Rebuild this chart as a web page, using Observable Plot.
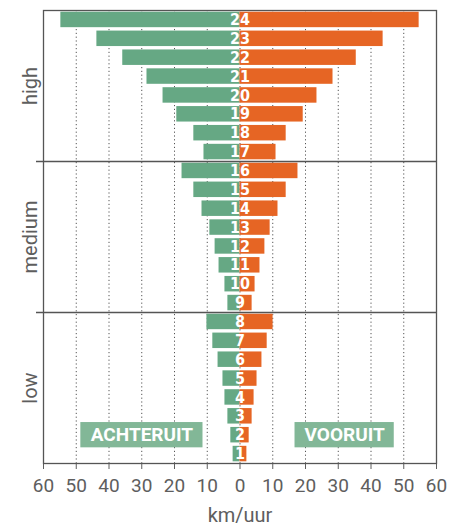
<!DOCTYPE html>
<html><head><meta charset="utf-8">
<script src="https://cdn.jsdelivr.net/npm/d3@7"></script>
<script src="https://cdn.jsdelivr.net/npm/@observablehq/plot@0.6"></script>
<style>
body{margin:0;background:#fff;}
#chart svg{display:block;}
</style>
</head><body><div id="chart"></div>
<script>
// gear numbers (categories)
const gears = [1,2,3,4,5,6,7,8,9,10,11,12,13,14,15,16,17,18,19,20,21,22,23,24];
// speed in km/uur when driving backwards (achteruit) and forwards (vooruit)
const achteruit = [2.1,2.8,3.7,4.6,5.2,6.7,8.3,10.1, 3.7,4.6,6.4,7.6,9.2,11.6,14.1,17.7, 11.0,14.1,19.3,23.5,28.4,35.8,43.7,54.7];
const vooruit   = [2.1,2.8,3.7,4.3,5.2,6.7,8.3,10.1, 3.7,4.6,6.1,7.6,9.2,11.6,14.1,17.7, 11.0,14.1,19.3,23.5,28.4,35.5,43.7,54.7];
// ranges
const groupNames = ["low","medium","high"];
const groupFirst = [1, 9, 17];
const groupLast  = [8, 16, 24];
// x ticks
const xTicks = [-60,-50,-40,-30,-20,-10,0,10,20,30,40,50,60];
const gridTicks = [-50,-40,-30,-20,-10,0,10,20,30,40,50];
const xLabel = "km/uur";
// direction labels (text, extent in km/uur, gear row)
const dirText = ["ACHTERUIT","VOORUIT"];
const dirFrom = [-48.6, 16.8];
const dirTo   = [-11.3, 47.1];
const dirGear = [2, 2];

const rows = gears.map((g,i)=>({gear:g, back:-achteruit[i], fwd:vooruit[i]}));
const groups = groupNames.map((n,i)=>({name:n, mid:(groupFirst[i]+groupLast[i])/2, top:groupLast[i]+0.5}));
const dividers = groups.filter(d=>d.name!=="high").map(d=>d.top);
const dirs = dirText.map((t,i)=>({text:t, x1:dirFrom[i], x2:dirTo[i], gear:dirGear[i]}));

const half = 0.41;
const green = "#66a884", orange = "#e66524", lightGreen = "#82b797";

const chart = Plot.plot({
  width: 458, height: 526,
  marginTop: 10, marginBottom: 63, marginLeft: 43, marginRight: 22,
  style: {fontFamily: "Roboto, sans-serif", fontSize: "19px", color: "#5e5e5e", background: "#fff"},
  x: {domain: [-60, 60], ticks: xTicks, tickFormat: d => Math.abs(d), tickSize: 6, tickPadding: 9, label: null},
  y: {domain: [0.5, 24.5], axis: null},
  marks: [
    Plot.ruleX(gridTicks, {x: d => d, stroke: "#555", strokeWidth: 1, strokeDasharray: "1.2,2.6"}),
    Plot.rectX(rows, {x1: 0, x2: "back", y1: d => d.gear - half, y2: d => d.gear + half, fill: green}),
    Plot.rectX(rows, {x1: 0, x2: "fwd", y1: d => d.gear - half, y2: d => d.gear + half, fill: orange}),
    Plot.text(rows, {x: 0, y: "gear", text: d => String(d.gear), fill: "white", fontWeight: "bold",
      fontSize: 16, fontFamily: "'Liberation Sans Narrow', 'DejaVu Sans Condensed', sans-serif"}),
    Plot.rect(dirs, {x1: "x1", x2: "x2", y1: d => d.gear - 0.67, y2: d => d.gear + 0.67, fill: lightGreen}),
    Plot.text(dirs, {x: d => (d.x1 + d.x2) / 2, y: "gear", text: "text", fill: "white", fontWeight: "bold", fontSize: 19}),
    Plot.ruleY(dividers, {y: d => d, stroke: "#555", strokeWidth: 1.3, insetLeft: -7}),
    Plot.frame({stroke: "#555", strokeWidth: 1.3}),
    Plot.text(groups, {y: "mid", text: "name", frameAnchor: "left", textAnchor: "middle", rotate: -90, dx: -13, fontSize: 20, fill: "#5e5e5e"}),
    Plot.text([xLabel], {text: d => d, frameAnchor: "bottom", lineAnchor: "middle", dy: 52, fontSize: 20, fill: "#5e5e5e"})
  ]
});
document.getElementById("chart").appendChild(chart);
</script>
</body></html>
